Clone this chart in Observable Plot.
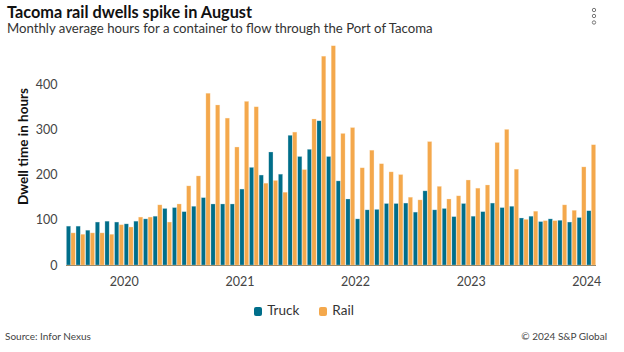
<!DOCTYPE html>
<html><head><meta charset="utf-8">
<script src="https://cdn.jsdelivr.net/npm/d3@7"></script>
<script src="https://cdn.jsdelivr.net/npm/@observablehq/plot@0.6"></script>
<style>
body{margin:0;background:#fff;font-family:Lato,"Open Sans",sans-serif;}
#wrap{position:relative;width:624px;height:352px;overflow:hidden;background:#fff}
#title{position:absolute;left:7px;top:2px;font-weight:700;font-size:16.3px;color:#111;white-space:nowrap}
#sub{position:absolute;left:7px;top:20px;font-size:13.2px;color:#333;white-space:nowrap}
#chart{position:absolute;left:0;top:36px}
#legend{position:absolute;left:0;width:608px;top:302px;display:flex;justify-content:center;gap:20px;font-size:13.5px;color:#333}
#legend span.sw{display:inline-block;width:8px;height:9px;border-radius:2px;margin-right:5px;vertical-align:-1px}
#src{position:absolute;left:5px;top:330px;font-size:10px;color:#444}
#copy{position:absolute;right:17px;top:330px;font-size:10px;color:#444}
#menu{position:absolute;left:589px;top:6px}
</style></head>
<body><div id="wrap">
<div id="title">Tacoma rail dwells spike in August</div>
<div id="sub">Monthly average hours for a container to flow through the Port of Tacoma</div>
<svg id="menu" width="10" height="22"><circle cx="5" cy="4" r="1.7" fill="none" stroke="#777" stroke-width="1"/><circle cx="5" cy="10" r="1.7" fill="none" stroke="#777" stroke-width="1"/><circle cx="5" cy="16.5" r="1.7" fill="none" stroke="#777" stroke-width="1"/></svg>
<div id="chart"></div>
<div id="legend"></div>
<div id="src">Source: Infor Nexus</div>
<div id="copy">© 2024 S&amp;P Global</div>
</div>
<script>
const months = [
 "Jul 2019","Aug 2019","Sep 2019","Oct 2019","Nov 2019","Dec 2019",
 "Jan 2020","Feb 2020","Mar 2020","Apr 2020","May 2020","Jun 2020","Jul 2020","Aug 2020","Sep 2020","Oct 2020","Nov 2020","Dec 2020",
 "Jan 2021","Feb 2021","Mar 2021","Apr 2021","May 2021","Jun 2021","Jul 2021","Aug 2021","Sep 2021","Oct 2021","Nov 2021","Dec 2021",
 "Jan 2022","Feb 2022","Mar 2022","Apr 2022","May 2022","Jun 2022","Jul 2022","Aug 2022","Sep 2022","Oct 2022","Nov 2022","Dec 2022",
 "Jan 2023","Feb 2023","Mar 2023","Apr 2023","May 2023","Jun 2023","Jul 2023","Aug 2023","Sep 2023","Oct 2023","Nov 2023","Dec 2023",
 "Jan 2024"
];
const truck = [86,86,77,95,97,95,91,97,102,108,125,127,118,130,149,135,135,135,168,216,199,250,201,287,240,256,319,240,186,146,102,122,123,136,136,137,117,164,122,125,107,136,108,118,137,127,130,104,108,96,102,99,95,105,120];
const rail = [71,68,71,71,68,89,84,106,106,133,95,135,175,197,380,354,325,261,362,350,181,187,161,294,211,323,462,485,291,304,215,254,224,206,200,150,144,273,174,146,153,188,170,177,271,300,212,101,119,98,98,133,121,217,266];
const years = ["2020","2021","2022","2023","2024"];
const yTicks = [0,100,200,300,400];
const series = ["Truck","Rail"];
const colors = ["#006e8a","#f4a84c"];

const table = months.map((m,i)=>({i, month:m, truck:truck[i], rail:rail[i]}));
const yearTicks = years.map(y => months.indexOf("Jan " + y));

const chart = Plot.plot({
  width:624, height:260, marginLeft:66, marginRight:28, marginTop:3, marginBottom:31,
  style:{fontFamily:"Lato, 'Open Sans', sans-serif", fontSize:"12px", color:"#444", background:"transparent", overflow:"visible"},
  x:{domain:[0, months.length], axis:null},
  y:{domain:[0,500], axis:null},
  marks:[
    Plot.rectY(table,{x1:"i", x2:d=>d.i+0.5, y:"truck", fill:colors[0], stroke:"#cfe3ea", strokeWidth:0.5, strokeOpacity:0.6, insetLeft:0.4, insetRight:0.2}),
    Plot.rectY(table,{x1:d=>d.i+0.5, x2:d=>d.i+1, y:"rail", fill:colors[1], stroke:"#fde6c4", strokeWidth:0.5, strokeOpacity:0.6, insetLeft:0.2, insetRight:0.4}),
    Plot.ruleY([0],{stroke:"#9b8a6b", strokeWidth:1}),
    Plot.axisX(yearTicks,{tickSize:0, tickPadding:12, tickFormat:i=>months[i].slice(4), fontSize:12.5, label:null, fill:"#444"}),
    Plot.axisY(yTicks,{tickSize:0, tickPadding:9, label:null, fontSize:12.5, fill:"#444"}),
    Plot.text(["Dwell time in hours"],{frameAnchor:"left", textAnchor:"middle", rotate:-90, dx:-43, dy:-6, fontWeight:700, fontSize:13.5, fill:"#111"})
  ]
});
document.getElementById("chart").appendChild(chart);

const lg = document.getElementById("legend");
series.forEach((s,k)=>{
  const item = document.createElement("div");
  item.innerHTML = `<span class="sw" style="background:${colors[k]}"></span>${s}`;
  lg.appendChild(item);
});
</script>
</body></html>
